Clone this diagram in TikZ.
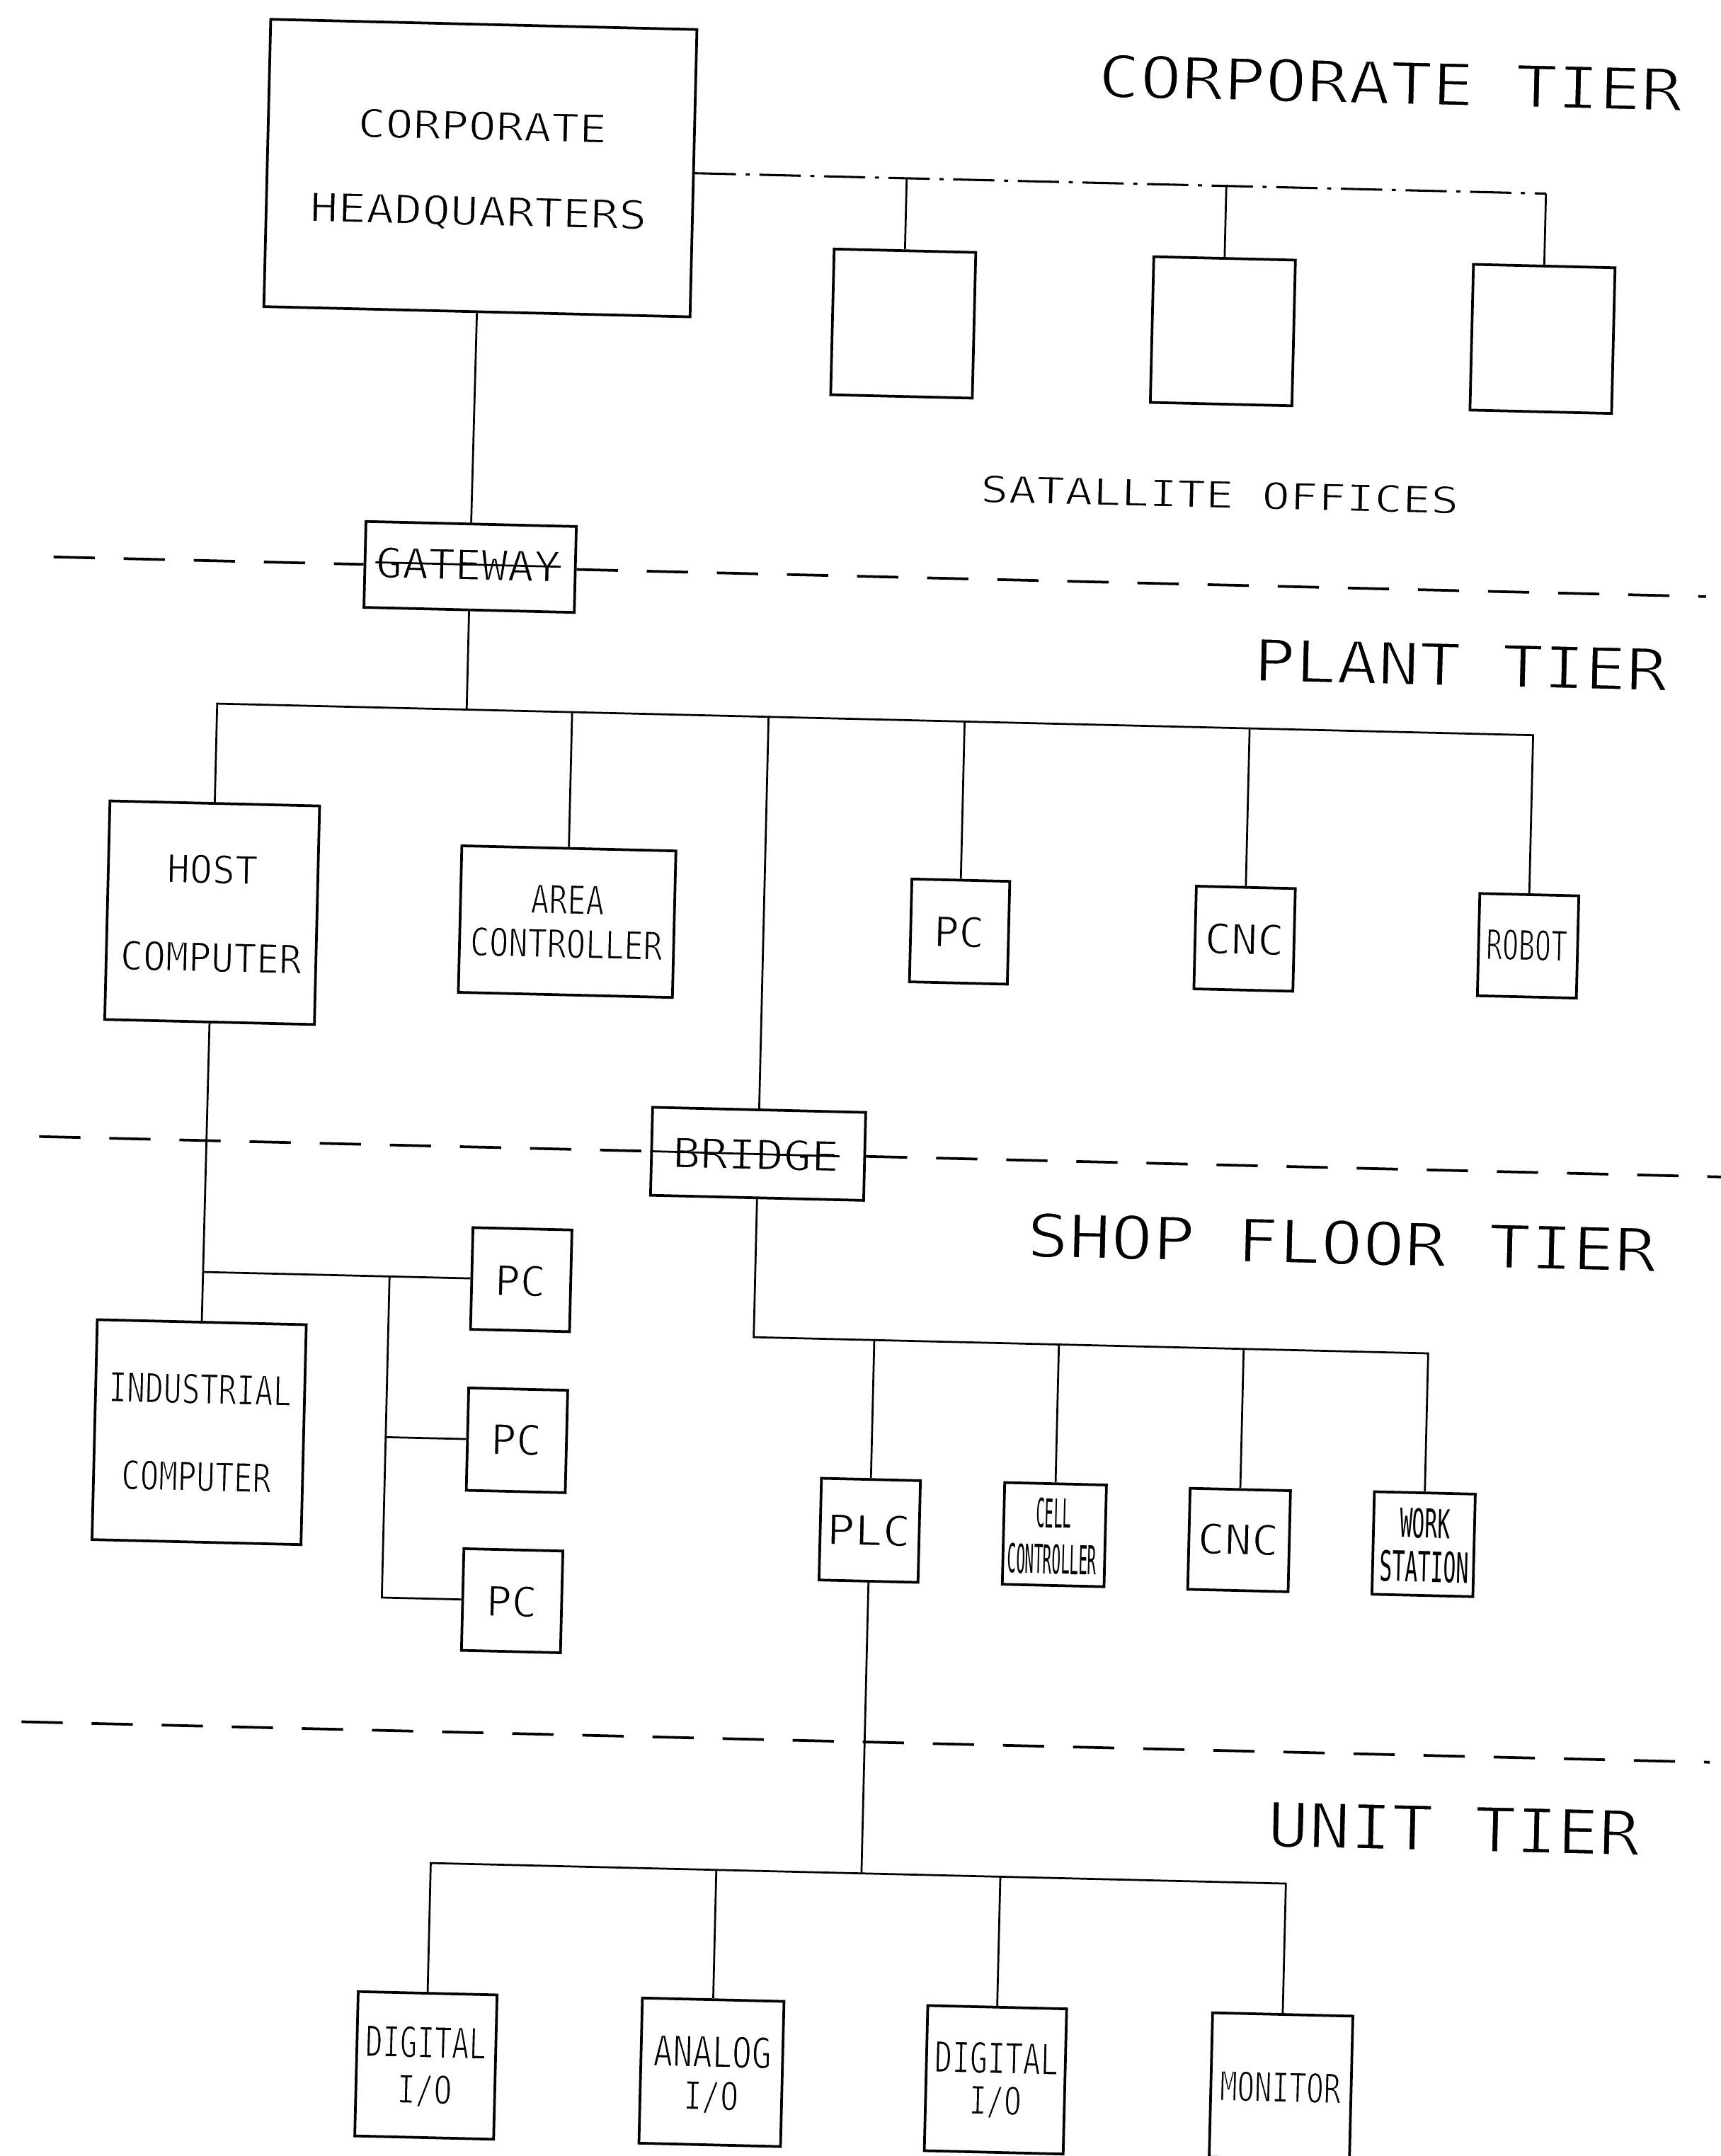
\documentclass[tikz,border=0pt]{standalone}
\usepackage{fontspec}
\usepackage{graphicx}
\setmainfont{DejaVu Sans Mono}
\newlength\pxu
\setlength\pxu{0.02cm}
\newcommand\thinon[1]{\special{pdf:literal direct 2 Tr 1 1 1 RG \fpeval{#1*0.022} w}}
\newcommand\thinoff{\special{pdf:literal direct 0 Tr 0 0 0 RG}}
% thin plotter-like label: width, cap height (px units), text
\newcommand\lb[3]{\resizebox{#1\pxu}{#2\pxu}{\fontsize{\the\dimexpr #2\pxu*100/73\relax}{\the\dimexpr #2\pxu*120/73\relax}\selectfont\thinon{#2}#3\thinoff}}
% plain (heavier) label
\newcommand\lbn[3]{\resizebox{#1\pxu}{#2\pxu}{\fontsize{\the\dimexpr #2\pxu*100/73\relax}{\the\dimexpr #2\pxu*120/73\relax}\selectfont #3}}
\tikzset{
  bx/.style 2 args={draw, line width=1.1pt, minimum width=#1*0.02cm, minimum height=#2*0.02cm, inner sep=0pt},
  lbl/.style={inner sep=0pt},
  conn/.style={line width=0.8pt},
  tierline/.style={line width=1.1pt, dash pattern=on 0.6cm off 0.42cm},
  corpline/.style={line width=0.9pt, dash pattern=on 0.6cm off 0.14cm on 0.06cm off 0.14cm},
}
\begin{document}
\begin{tikzpicture}[x=0.02cm,y=-0.02cm]
\path[fill=white,use as bounding box] (0,0) rectangle (1251.3,1568);
\begin{scope}[rotate around={-1.375:(625,784)}, transform shape]
% ---------------- corporate tier
\node[bx={310}{209}] (hq) at (333.5,129) {};
\node[lbl] (hqa) at (334.2,98.2) {\lb{181}{21}{CORPORATE}};
\node[lbl] (hqb) at (332.8,161.8) {\lb{245}{21.5}{HEADQUARTERS}};
\node[lbl] (corptier) at (993.6,51.1) {\lb{425}{31.5}{CORPORATE TIER}};
\node[bx={103}{106}] (s1) at (643.6,234.7) {};
\node[bx={103}{106}] (s2) at (876.1,234.7) {};
\node[bx={103}{106}] (s3) at (1108.6,234.7) {};
\node[lbl] (satl) at (876.6,353.4) {\lb{348}{20}{SATALLITE OFFICES}};
\coordinate (c1) at (643.6,129);
\coordinate (c2) at (876.1,129);
\coordinate (c3) at (1108.6,129);
\draw[corpline] (hq.east) -- (c3);
\draw[conn] (c1) -- (s1.north);
\draw[conn] (c2) -- (s2.north);
\draw[conn] (c3) -- (s3.north);
% gateway
\node[bx={153}{62.5}] (gw) at (333,419.2) {};
\node[lbl] (gwt) at (331.5,417.5) {\lb{134}{22.5}{GATEWAY}};
\draw[conn] (hq.south) -- (gw.north);
\coordinate (t1a) at (30,419.2);
\coordinate (t1b) at (1232,419.2);
\draw[tierline] (t1a) -- (gw.west);
\draw[tierline] (gw.east) -- (t1b);
\draw[conn] (gwt.west) -- (gwt.east);
% ---------------- plant tier
\node[lbl] (planttier) at (1054.8,473) {\lb{301}{31}{PLANT TIER}};
\node[bx={152.5}{159}] (host) at (151.5,675.1) {};
\node[lbl] (hosta) at (150.9,643.5) {\lb{66}{21}{HOST}};
\node[lbl] (hostb) at (151.5,707.5) {\lb{132}{21.5}{COMPUTER}};
\node[bx={155.7}{106.6}] (area) at (409.7,675.4) {};
\node[lbl] (areaa) at (409.6,659.3) {\lb{53.4}{21}{AREA}};
\node[lbl] (areab) at (409.5,691.4) {\lb{140}{21}{CONTROLLER}};
\node[bx={71.2}{74.8}] (pcp) at (695.2,675.8) {};
\node[lbl] (pcpt) at (694.7,676) {\lb{36.7}{22.5}{PC}};
\node[bx={72}{74.7}] (cncp) at (902.5,676) {};
\node[lbl] (cncpt) at (902.3,676.3) {\lb{57.7}{22.5}{CNC}};
\node[bx={72}{74.4}] (robot) at (1108.7,676.2) {};
\node[lbl] (robott) at (1107.7,675.7) {\lb{59}{22.5}{ROBOT}};
\coordinate (pb0) at (151.5,523);
\coordinate (pbR) at (1108.7,523);
\coordinate (pbg) at (333,523);
\coordinate (pba) at (409.7,523);
\coordinate (pbb) at (552.6,523);
\coordinate (pbp) at (695.2,523);
\coordinate (pbc) at (902.5,523);
\draw[conn] (gw.south) -- (pbg);
\draw[conn] (host.north) -- (pb0) -- (pbR) -- (robot.north);
\draw[conn] (pba) -- (area.north);
\draw[conn] (pbp) -- (pcp.north);
\draw[conn] (pbc) -- (cncp.north);
% bridge
\node[bx={155}{64}] (bridge) at (552.6,840.9) {};
\node[lbl] (brt) at (551,841.3) {\lb{121}{22.3}{BRIDGE}};
\draw[conn] (pbb) -- (bridge.north);
\coordinate (t2a) at (29.7,840.9);
\coordinate (t2b) at (1255,840.9);
\draw[tierline] (t2a) -- (bridge.west);
\draw[tierline] (bridge.east) -- (t2b);
\draw[conn] (bridge.west) -- (brt.east);
% ---------------- shop floor tier
\node[lbl] (shoptier) at (978.4,895.1) {\lb{458}{32.5}{SHOP FLOOR TIER}};
\node[bx={72}{74}] (pc1) at (382.6,936.5) {};
\node[lbl] (pc1t) at (381.8,937.3) {\lb{37}{22.5}{PC}};
\node[bx={72}{74.5}] (pc2) at (382.3,1053.4) {};
\node[lbl] (pc2t) at (381.7,1052.9) {\lb{37}{22.5}{PC}};
\node[bx={72}{74}] (pc3) at (381.6,1170.1) {};
\node[lbl] (pc3t) at (381.2,1170.6) {\lb{37}{22.5}{PC}};
\node[bx={152}{160}] (ind) at (151.1,1053) {};
\node[lbl] (inda) at (151,1021.5) {\lb{133}{22}{INDUSTRIAL}};
\node[lbl] (indb) at (149.8,1085.2) {\lb{109}{21.5}{COMPUTER}};
\draw[conn] (host.south) -- (ind.north);
\coordinate (br0) at (151.3,936.5);
\coordinate (bv) at (286.8,936.5);
\draw[conn] (br0) -- (pc1.west);
\draw[conn] (bv) -- (bv |- pc3.west) -- (pc3.west);
\draw[conn] (bv |- pc2.west) -- (pc2.west);
\node[bx={72}{74}] (plc) at (640.3,1112.7) {};
\node[lbl] (plct) at (639.5,1112.6) {\lb{61}{22.5}{PLC}};
\node[bx={74}{74}] (cell) at (774.6,1112.6) {};
\node[lbl] (cella) at (773.8,1097.1) {\lbn{25.5}{21.5}{CELL}};
\node[lbl] (cellb) at (773.3,1130.6) {\lbn{65}{21.5}{CONTROLLER}};
\node[bx={73}{73.5}] (cncs) at (909,1113.3) {};
\node[lbl] (cncst) at (908.3,1112.8) {\lb{59}{22.5}{CNC}};
\node[bx={73.4}{74.6}] (ws) at (1043.2,1113.1) {};
\node[lbl] (wsa) at (1044,1097.9) {\lbn{36.5}{21.5}{WORK}};
\node[lbl] (wsb) at (1044.2,1129.5) {\lbn{64.5}{22.5}{STATION}};
\coordinate (sb0) at (552.6,974.3);
\coordinate (sbR) at (1043.2,974.3);
\draw[conn] (bridge.south) -- (sb0) -- (sbR) -- (ws.north);
\draw[conn] (plc.north |- sb0) -- (plc.north);
\draw[conn] (cell.north |- sb0) -- (cell.north);
\draw[conn] (cncs.north |- sb0) -- (cncs.north);
\coordinate (t3a) at (27,1266.7);
\coordinate (t3b) at (1255,1266.7);
\draw[tierline] (t3a) -- (t3b);
% ---------------- unit tier
\node[lbl] (unittier) at (1070.1,1319.6) {\lb{271}{33}{UNIT TIER}};
\node[bx={101}{105}] (dio1) at (327,1509.5) {};
\node[lbl] (dio1a) at (326.6,1492.6) {\lb{88}{23}{DIGITAL}};
\node[lbl] (dio1b) at (326.4,1528) {\lb{40}{21}{I/O}};
\node[bx={103}{105.6}] (ana) at (534.7,1509.5) {};
\node[lbl] (anaa) at (535,1494.5) {\lb{86}{23}{ANALOG}};
\node[lbl] (anab) at (534.8,1527.6) {\lb{40}{21}{I/O}};
\node[bx={101}{105.6}] (dio2) at (741.3,1510) {};
\node[lbl] (dio2a) at (741.6,1494.1) {\lb{90}{23}{DIGITAL}};
\node[lbl] (dio2b) at (741.5,1526.1) {\lb{38}{21}{I/O}};
\node[bx={102}{105}] (mon) at (949,1510) {};
\node[lbl] (mont) at (948.6,1510.4) {\lb{88}{22}{MONITOR}};
\coordinate (ub0) at (327,1362.3);
\coordinate (ubR) at (949,1362.3);
\draw[conn] (plc.south) -- (plc.south |- ub0);
\draw[conn] (dio1.north) -- (ub0) -- (ubR) -- (mon.north);
\draw[conn] (ana.north |- ub0) -- (ana.north);
\draw[conn] (dio2.north |- ub0) -- (dio2.north);
\end{scope}
\end{tikzpicture}
\end{document}
